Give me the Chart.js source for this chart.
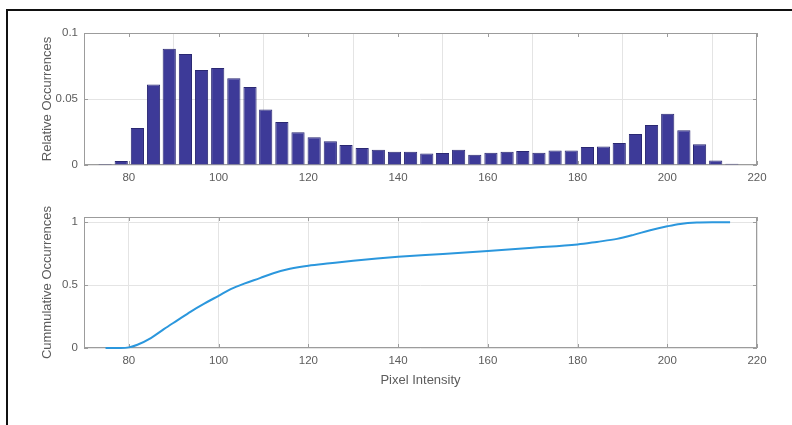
<!DOCTYPE html>
<html>
<head>
<meta charset="utf-8">
<script src="https://cdn.jsdelivr.net/npm/chart.js@4.4.1/dist/chart.umd.min.js"></script>
<style>
  html, body { margin: 0; padding: 0; background: #fff; }
  body { width: 792px; height: 425px; position: relative; overflow: hidden; }
  .frame { position: absolute; left: 6px; top: 9px; width: 820px; height: 440px;
           border-top: 2px solid #111; border-left: 2px solid #111; }
  .box { position: absolute; left: 0; width: 792px; }
  #top { top: 0; height: 200px; }
  #bot { top: 190px; height: 235px; }
</style>
</head>
<body>
<div class="frame"></div>
<div class="box" id="top"><canvas id="histChart"></canvas></div>
<div class="box" id="bot"><canvas id="cdfChart"></canvas></div>
<script>
// x ticks shared by both panels
const xTicks = [80, 100, 120, 140, 160, 180, 200, 220]
const histYTicks = [0, 0.05, 0.1]
const cdfYTicks = [0, 0.5, 1]

// histogram bins (centres) and relative occurrences
const binCenters = [74.7, 78.3, 81.9, 85.5, 89.0, 92.6, 96.2, 99.8, 103.4, 107.0,
  110.5, 114.1, 117.7, 121.3, 124.9, 128.4, 132.0, 135.6, 139.2, 142.8,
  146.4, 149.9, 153.5, 157.1, 160.7, 164.3, 167.8, 171.4, 175.0, 178.6,
  182.2, 185.8, 189.3, 192.9, 196.5, 200.1, 203.7, 207.2, 210.8, 214.4]
const relOcc = [0.0008, 0.003, 0.028, 0.061, 0.088, 0.084, 0.072, 0.0735, 0.0657, 0.059,
  0.042, 0.0326, 0.0248, 0.021, 0.018, 0.0152, 0.0129, 0.0116, 0.0101, 0.0101,
  0.0088, 0.009, 0.0116, 0.0078, 0.0093, 0.0101, 0.0106, 0.0093, 0.0109, 0.0109,
  0.0136, 0.0141, 0.0167, 0.0235, 0.0303, 0.0389, 0.0263, 0.0157, 0.0035, 0.001]

// cumulative curve
const cdfX = [74.8, 78.2, 80, 81.9, 84.9, 87.8, 90.8, 93.8, 96.8, 100, 102.7, 105.7,
  109.2, 112.2, 115.9, 120, 124.8, 130, 135.3, 140, 150, 160, 170, 180,
  184.3, 188.8, 192.5, 196.2, 200, 202.9, 206.6, 210, 214]
const cdfY = [0, 0, 0.005, 0.026, 0.079, 0.15, 0.22, 0.29, 0.353, 0.415, 0.468, 0.512,
  0.556, 0.595, 0.63, 0.655, 0.674, 0.694, 0.712, 0.725, 0.748, 0.772, 0.797, 0.823,
  0.844, 0.868, 0.9, 0.937, 0.968, 0.987, 0.998, 1.0, 1.0]

const FONT = '"Liberation Sans", Arial, Helvetica, sans-serif'
const TXT = '#5c5c5c'

// matlab-ish box with small inward ticks, drawn under the data
const boxPlugin = {
  id: 'box',
  beforeDatasetsDraw(chart) {
    const {ctx, chartArea: a, scales} = chart
    ctx.save()
    ctx.strokeStyle = '#9c9c9c'
    ctx.lineWidth = 1
    ctx.strokeRect(Math.round(a.left) + 0.5, Math.round(a.top) + 0.5,
      Math.round(a.right - a.left) - 1, Math.round(a.bottom - a.top) - 1)
    ctx.beginPath()
    scales.x.ticks.forEach(t => {
      const px = Math.round(scales.x.getPixelForValue(t.value)) + 0.5
      ctx.moveTo(px, a.top); ctx.lineTo(px, a.top + 4)
      ctx.moveTo(px, a.bottom); ctx.lineTo(px, a.bottom - 4)
    })
    scales.y.ticks.forEach(t => {
      const py = Math.round(scales.y.getPixelForValue(t.value)) + 0.5
      ctx.moveTo(a.left, py); ctx.lineTo(a.left + 4, py)
      ctx.moveTo(a.right, py); ctx.lineTo(a.right - 4, py)
    })
    ctx.stroke()
    ctx.restore()
  }
}

const xScale = (withTitle, height) => ({
  type: 'linear',
  min: 70,
  max: 220,
  offset: false,
  afterBuildTicks: s => { s.ticks = xTicks.map(v => ({value: v})) },
  afterFit: s => { s.height = height },
  grid: {color: '#e4e4e4', drawTicks: false},
  border: {display: false},
  ticks: {color: TXT, padding: 6, maxRotation: 0, font: {family: FONT, size: 11.5},
    callback: v => String(v)},
  title: {display: withTitle, text: 'Pixel Intensity', color: TXT,
    font: {family: FONT, size: 13}, padding: {top: 0, bottom: 37}}
})

const yScale = (title, max, ticks) => ({
  min: 0,
  max: max,
  afterBuildTicks: s => { s.ticks = ticks.map(v => ({value: v})) },
  afterFit: s => { s.width = 84 },
  grid: {color: '#e4e4e4', drawTicks: false},
  border: {display: false},
  ticks: {color: TXT, padding: 6, font: {family: FONT, size: 11.5},
    callback: v => String(v)},
  title: {display: true, text: title, color: TXT,
    font: {family: FONT, size: 13}, padding: {top: 40, bottom: 0}}
})

new Chart(document.querySelector('#histChart'), {
  type: 'bar',
  data: {
    datasets: [{
      data: binCenters.map((c, i) => ({x: c, y: relOcc[i]})),
      backgroundColor: '#3d3a98',
      borderColor: '#2a2872',
      borderWidth: 1,
      barPercentage: 0.84,
      categoryPercentage: 1
    }]
  },
  options: {
    responsive: true,
    maintainAspectRatio: false,
    animation: false,
    layout: {padding: {left: 0, right: 35, top: 33, bottom: 0}},
    plugins: {legend: {display: false}, tooltip: {enabled: false}},
    scales: {
      x: xScale(false, 35),
      y: yScale('Relative Occurrences', 0.1, histYTicks)
    }
  },
  plugins: [boxPlugin]
})

new Chart(document.querySelector('#cdfChart'), {
  type: 'line',
  data: {
    datasets: [{
      data: cdfX.map((x, i) => ({x: x, y: cdfY[i]})),
      borderColor: '#2b97dd',
      borderWidth: 2,
      pointRadius: 0,
      fill: false,
      clip: 4,
      cubicInterpolationMode: 'monotone'
    }]
  },
  options: {
    responsive: true,
    maintainAspectRatio: false,
    animation: false,
    layout: {padding: {left: 0, right: 35, top: 27, bottom: 0}},
    plugins: {legend: {display: false}, tooltip: {enabled: false}},
    scales: {
      x: xScale(true, 77),
      y: yScale('Cummulative Occurrences', 1.042, cdfYTicks)
    }
  },
  plugins: [boxPlugin]
})
</script>
</body>
</html>
